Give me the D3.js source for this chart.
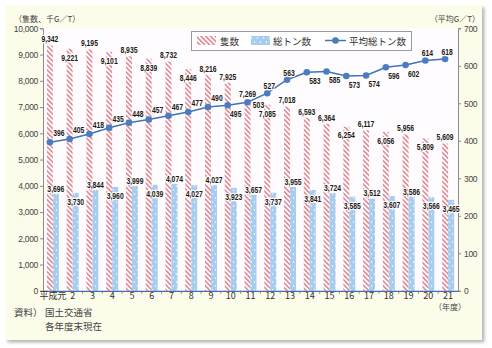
<!DOCTYPE html>
<html><head><meta charset="utf-8">
<script src="https://cdn.jsdelivr.net/npm/d3@7"></script>
<style>
html,body{margin:0;padding:0;background:#fff;}
svg{display:block;}
</style></head>
<body>
<script>
// ---- data ----
const years = ["平成元","2","3","4","5","6","7","8","9","10","11","12","13","14","15","16","17","18","19","20","21"];
const vessels = [9342,9221,9195,9101,8935,8839,8732,8446,8216,7925,7269,7085,7018,6593,6364,6254,6117,6056,5956,5809,5609];
const grossTon = [3696,3730,3844,3960,3999,4039,4074,4027,4027,3923,3657,3737,3955,3841,3724,3585,3512,3607,3586,3566,3465];
const avgGT = [396,405,418,435,448,457,467,477,490,495,503,527,563,583,585,573,574,596,602,614,618];
const leftTicks = [0,1000,2000,3000,4000,5000,6000,7000,8000,9000,10000];
const rightTicks = [0,100,200,300,400,500,600,700];
// label placement (a = above, b = below; ne/se/n/e relative to marker)
const vesselLabelSide = ["a","b","a","b","a","b","a","b","a","a","a","b","a","a","a","b","a","b","a","b","a"];
const grossLabelSide  = ["a","b","a","b","a","b","a","b","a","b","a","b","a","b","a","b","a","b","a","b","b"];
const avgLabelSide    = ["ne","ne","ne","ne","ne","ne","ne","ne","ne","se","e","n","n","se","se","se","se","se","se","n","n"];

const W = 492, H = 348;
const M = {left:43, right:458, top:28.3, bottom:290.8};

const svg = d3.select("body").append("svg").attr("width",W).attr("height",H);
const defs = svg.append("defs");

// shadow
const f = defs.append("filter").attr("id","sh").attr("x","-5%").attr("y","-5%").attr("width","115%").attr("height","115%");
f.append("feDropShadow").attr("dx",2.5).attr("dy",2.5).attr("stdDeviation",1.8).attr("flood-color","#000").attr("flood-opacity",0.28);

// patterns
const ps = defs.append("pattern").attr("id","stripe").attr("patternUnits","userSpaceOnUse")
  .attr("width",3.4).attr("height",3.4).attr("patternTransform","rotate(-45)");
ps.append("rect").attr("width",3.4).attr("height",3.4).attr("fill","#fff");
ps.append("rect").attr("width",1.7).attr("height",3.4).attr("fill","#e48e99");

const pd = defs.append("pattern").attr("id","dots").attr("patternUnits","userSpaceOnUse")
  .attr("width",6).attr("height",8).attr("x",M.left);
pd.append("rect").attr("width",6).attr("height",8).attr("fill","#a6ccf0");
pd.append("circle").attr("cx",1.5).attr("cy",2).attr("r",0.75).attr("fill","#fff");
pd.append("circle").attr("cx",4.5).attr("cy",6).attr("r",0.75).attr("fill","#fff");

// panel
svg.append("rect").attr("x",5).attr("y",5).attr("width",477).attr("height",335)
  .attr("fill","#fcfcea").attr("filter","url(#sh)");

// plot bg
svg.append("rect").attr("x",M.left).attr("y",M.top).attr("width",M.right-M.left).attr("height",M.bottom-M.top)
  .attr("fill","#fffcff");

// scales
const x = d3.scaleBand().domain(years).range([M.left,M.right]).paddingInner(0).paddingOuter(0);
const sub = d3.scaleBand().domain(["v","g"]).range([0,x.bandwidth()]).paddingInner(0).paddingOuter(0.65);
const yL = d3.scaleLinear().domain([0,10000]).range([M.bottom,M.top]);
const yR = d3.scaleLinear().domain([0,700]).range([M.bottom,M.top]);

const numFont = "'Liberation Sans',Arial,sans-serif";
const jpFont = "'Noto Sans CJK JP','Noto Sans',sans-serif";

// bars
svg.append("g").selectAll("rect").data(vessels).join("rect")
  .attr("x",(d,i)=>x(years[i])+sub("v")).attr("width",sub.bandwidth())
  .attr("y",d=>yL(d)).attr("height",d=>yL(0)-yL(d)).attr("fill","url(#stripe)");
svg.append("g").selectAll("rect").data(grossTon).join("rect")
  .attr("x",(d,i)=>x(years[i])+sub("g")).attr("width",sub.bandwidth())
  .attr("y",d=>yL(d)).attr("height",d=>yL(0)-yL(d)).attr("fill","url(#dots)");

// axes
const axL = d3.axisLeft(yL).tickValues(leftTicks).tickSize(3).tickPadding(2).tickFormat(d3.format(","));
const gL = svg.append("g").attr("transform",`translate(${M.left},0)`).call(axL);
const axR = d3.axisRight(yR).tickValues(rightTicks).tickSize(3).tickPadding(3);
const gR = svg.append("g").attr("transform",`translate(${M.right},0)`).call(axR);
const axB = d3.axisBottom(x).tickSize(0).tickPadding(2);
const gB = svg.append("g").attr("transform",`translate(0,${M.bottom})`).call(axB);
// boundary ticks
svg.append("g").selectAll("line").data(years.slice(1)).join("line")
  .attr("x1",d=>x(d)).attr("x2",d=>x(d)).attr("y1",M.bottom).attr("y2",M.bottom+3)
  .attr("stroke","#777").attr("stroke-width",0.8);

[gL,gR].forEach(g=>{
  g.select(".domain").attr("stroke","#8a8a8a").attr("stroke-width",1);
  g.selectAll(".tick line").attr("stroke","#8a8a8a");
  g.selectAll(".tick text").attr("font-family",numFont).attr("font-size",8.5).attr("fill","#444")
    .attr("letter-spacing",-0.3);
});
gB.select(".domain").attr("stroke","#3d6fb0").attr("stroke-width",1.2);
gB.selectAll(".tick text").attr("font-family",jpFont).attr("font-size",9).attr("fill","#333");

// line
const px = i => x(years[i]) + sub("v") + sub.bandwidth()/2;
const line = d3.line().x((d,i)=>px(i)).y(d=>yR(d));
svg.append("path").datum(avgGT).attr("d",line).attr("fill","none")
  .attr("stroke","#3f74bb").attr("stroke-width",1.5);
svg.append("g").selectAll("circle").data(avgGT).join("circle")
  .attr("cx",(d,i)=>px(i)).attr("cy",d=>yR(d)).attr("r",3.3).attr("fill","#4a7dc0");

// value labels
function lab(g, xv, yv, t){
  g.append("text").attr("transform",`translate(${xv},${yv}) scale(0.74,1)`)
    .attr("text-anchor","middle").attr("dominant-baseline","central")
    .attr("font-family",numFont).attr("font-weight","bold").attr("font-size",9.2).attr("fill","#231815")
    .attr("stroke","#fff").attr("stroke-width",2.4).attr("paint-order","stroke").attr("stroke-linejoin","round")
    .text(t);
}
const gLab = svg.append("g");
const fmt = d3.format(",");
vessels.forEach((d,i)=>{
  const cx = x(years[i]) + sub("v") + sub.bandwidth()/2;
  const cy = vesselLabelSide[i]==="a" ? yL(d)-6 : yL(d)+9;
  lab(gLab,cx,cy,fmt(d));
});
grossTon.forEach((d,i)=>{
  const cx = x(years[i]) + sub("g") + sub.bandwidth()/2;
  const cy = grossLabelSide[i]==="a" ? yL(d)-5 : yL(d)+9;
  lab(gLab,cx,cy,fmt(d));
});
const off = {ne:[9,-9], se:[8,9], n:[2,-7], e:[11,3]};
avgGT.forEach((d,i)=>{
  const o = off[avgLabelSide[i]];
  lab(gLab,px(i)+o[0],yR(d)+o[1],d);
});

// axis titles
const jt = (xv,yv,t,size,anchor)=>svg.append("text").attr("x",xv).attr("y",yv).attr("font-family",jpFont)
  .attr("font-size",size).attr("fill","#444").attr("text-anchor",anchor||"start").text(t);
jt(14,22,"（隻数、千G／T）",8);
jt(480,22,"（平均G／T）",8,"end");
jt(450,310,"（年度）",8,"middle");
jt(14,316,"資料）",9.5);
jt(45,316,"国土交通省",9.5);
jt(45,330,"各年度末現在",9.5);

// legend
const lg = svg.append("g");
lg.append("rect").attr("x",191.5).attr("y",31.5).attr("width",220).attr("height",19)
  .attr("fill","#fff").attr("stroke","#9a9a9a").attr("stroke-width",1);
lg.append("rect").attr("x",197).attr("y",36).attr("width",19).attr("height",9).attr("fill","url(#stripe)");
jt(220,44.5,"隻数",9.5).attr("fill","#333");
lg.append("rect").attr("x",251).attr("y",36).attr("width",19).attr("height",9).attr("fill","url(#dots)");
jt(273,44.5,"総トン数",9.5).attr("fill","#333");
lg.append("line").attr("x1",325).attr("x2",346).attr("y1",40.5).attr("y2",40.5).attr("stroke","#3f74bb").attr("stroke-width",1.5);
lg.append("circle").attr("cx",335.5).attr("cy",40.5).attr("r",3.3).attr("fill","#4a7dc0");
jt(349,44.5,"平均総トン数",9.5).attr("fill","#333");
</script>
</body></html>
